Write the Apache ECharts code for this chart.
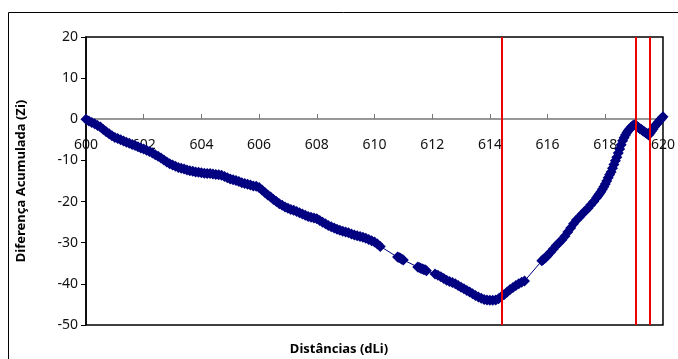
<!DOCTYPE html>
<html>
<head>
<meta charset="utf-8">
<script src="https://cdn.jsdelivr.net/npm/echarts@6/dist/echarts.min.js"></script>
<style>
html, body { margin: 0; padding: 0; background: #fff; }
#chart { width: 678px; height: 359px; }
</style>
</head>
<body>
<div id="chart"></div>
<script>
// distancias (dLi) e diferenca acumulada (Zi)
var dist = [
 600.0,600.1,600.2,600.3,600.4,600.5,600.6,600.7,600.8,600.9,
 601.0,601.1,601.2,601.3,601.4,601.5,601.6,601.7,601.8,601.9,
 602.0,602.1,602.2,602.3,602.4,602.5,602.6,602.7,602.8,602.9,
 603.0,603.1,603.2,603.3,603.4,603.5,603.6,603.7,603.8,603.9,
 604.0,604.1,604.2,604.3,604.4,604.5,604.6,604.7,604.8,604.9,
 605.0,605.1,605.2,605.3,605.4,605.5,605.6,605.7,605.8,605.9,
 606.0,606.1,606.2,606.3,606.4,606.5,606.6,606.7,606.8,606.9,
 607.0,607.1,607.2,607.3,607.4,607.5,607.6,607.7,607.8,607.9,
 608.0,608.1,608.2,608.3,608.4,608.5,608.6,608.7,608.8,608.9,
 609.0,609.1,609.2,609.3,609.4,609.5,609.6,609.7,609.8,609.9,
 610.0,610.1,610.2,
 610.8,610.85,610.9,610.95,611.0,
 611.5,611.55,611.6,611.65,611.7,611.75,611.8,
 612.1,612.2,612.3,612.4,612.5,612.6,612.7,612.8,612.9,
 613.0,613.1,613.2,613.3,613.4,613.5,613.6,613.7,613.8,613.9,
 614.0,614.1,614.2,614.3,614.4,614.5,614.6,614.7,614.8,614.9,
 615.0,615.1,615.2,
 615.8,615.85,615.9,615.95,
 616.0,616.1,616.2,616.3,616.4,616.5,616.6,616.7,616.8,616.9,
 617.0,617.1,617.2,617.3,617.4,617.5,617.6,617.7,617.75,617.8,617.85,617.9,617.95,
 618.0,618.05,618.1,618.15,618.2,618.25,618.3,618.35,618.4,618.45,618.5,618.55,
 618.6,618.65,618.7,618.75,618.8,618.85,618.9,618.95,
 619.0,619.05,619.1,619.15,619.2,619.25,619.3,619.35,619.4,619.45,619.5,619.55,
 619.6,619.65,619.7,619.75,619.8,619.85,619.9,619.95,
 620.0
];
var zi = [
 0,-0.4,-0.8,-1.1,-1.5,-1.9,-2.5,-3.0,-3.5,-4.0,
 -4.4,-4.7,-5.0,-5.3,-5.6,-5.8,-6.1,-6.4,-6.7,-7.0,
 -7.2,-7.5,-7.8,-8.2,-8.6,-9.0,-9.4,-9.9,-10.4,-10.8,
 -11.1,-11.4,-11.7,-11.9,-12.1,-12.3,-12.5,-12.6,-12.8,-12.9,
 -13.0,-13.1,-13.2,-13.2,-13.3,-13.4,-13.5,-13.6,-13.9,-14.2,
 -14.5,-14.7,-14.9,-15.1,-15.4,-15.6,-15.8,-16.0,-16.2,-16.3,
 -16.6,-17.2,-17.8,-18.4,-18.9,-19.5,-20.0,-20.5,-20.9,-21.3,
 -21.6,-21.9,-22.1,-22.4,-22.7,-23.0,-23.3,-23.6,-23.8,-24.0,
 -24.2,-24.6,-25.0,-25.4,-25.8,-26.1,-26.4,-26.7,-27.0,-27.2,
 -27.4,-27.6,-27.9,-28.1,-28.3,-28.5,-28.7,-28.9,-29.2,-29.5,
 -29.8,-30.3,-30.9,
 -33.5,-33.6,-33.8,-34.0,-34.2,
 -35.9,-36.0,-36.2,-36.3,-36.5,-36.6,-36.8,
 -37.6,-37.9,-38.3,-38.7,-39.1,-39.4,-39.7,-40.0,-40.4,
 -40.8,-41.2,-41.6,-42.0,-42.4,-42.8,-43.2,-43.5,-43.8,-43.9,
 -44.0,-44.0,-43.9,-43.6,-43.1,-42.6,-42.0,-41.4,-40.9,-40.4,
 -40.0,-39.6,-39.3,
 -34.4,-34.1,-33.8,-33.5,
 -33.1,-32.3,-31.5,-30.7,-30.0,-29.3,-28.4,-27.4,-26.4,-25.4,
 -24.5,-23.8,-23.0,-22.3,-21.6,-20.8,-20.0,-19.1,-18.6,-18.1,-17.6,-17.0,-16.4,
 -15.7,-15.0,-14.2,-13.5,-12.8,-11.9,-11.0,-10.1,-9.2,-8.2,-7.2,-6.2,
 -5.2,-4.5,-3.8,-3.2,-2.7,-2.3,-1.9,-1.6,
 -1.3,-1.5,-1.7,-2.0,-2.3,-2.5,-2.8,-3.0,-3.3,-3.5,-3.8,-3.4,
 -2.9,-2.4,-1.9,-1.4,-1.0,-0.6,-0.2,0.2,
 0.6
];
// linhas verticais vermelhas
var cortes = [614.4, 619.07, 619.55];

var dados = [];
for (var i = 0; i < dist.length; i++) {
	dados.push([dist[i], zi[i]]);
}

var myChart = echarts.init(document.getElementById('chart'));

var option = {
	animation: false,
	textStyle: { fontFamily: 'Noto Sans' },
	graphic: [
		{
			type: 'rect',
			shape: { x: 8.5, y: 12.5, width: 700, height: 400 },
			style: { fill: 'none', stroke: '#000', lineWidth: 1 },
			silent: true
		},
		{
			type: 'text',
			left: 'center',
			top: 343,
			style: {
				text: 'Distâncias (dLi)',
				font: 'bold 13px "Noto Sans"',
				fill: '#000'
			}
		}
	],
	grid: {
		left: 86, top: 37, width: 582, height: 288,
		show: true,
		borderColor: '#000',
		borderWidth: 1.5,
		backgroundColor: '#fff'
	},
	xAxis: {
		type: 'value',
		min: 600, max: 620, interval: 2,
		position: 'bottom',
		offset: -206,
		axisLine: { onZero: false, lineStyle: { color: '#777', width: 1.5 } },
		axisTick: { inside: true, length: 5, lineStyle: { color: '#777' } },
		axisLabel: { color: '#111', fontSize: 14, margin: 19 },
		splitLine: { show: false }
	},
	yAxis: {
		type: 'value',
		min: -50, max: 20, interval: 10,
		name: 'Diferença Acumulada (Zi)',
		nameLocation: 'middle',
		nameGap: 58,
		nameTextStyle: { fontWeight: 'bold', fontSize: 13, color: '#000' },
		axisLine: { show: true, lineStyle: { color: '#000', width: 1.5 } },
		axisTick: { show: true, length: 5, lineStyle: { color: '#000' } },
		axisLabel: { color: '#111', fontSize: 14, margin: 8 },
		splitLine: { show: false }
	},
	series: [
		{
			type: 'line',
			data: dados,
			symbol: 'diamond',
			symbolSize: 11,
			showAllSymbol: true,
			itemStyle: { color: '#000080' },
			lineStyle: { color: '#000080', width: 1 },
			markLine: {
				silent: true,
				symbol: 'none',
				label: { show: false },
				lineStyle: { color: '#ee0000', width: 2, type: 'solid' },
				data: cortes.map(function (c) { return { xAxis: c }; })
			}
		}
	]
};

myChart.setOption(option);
</script>
</body>
</html>
